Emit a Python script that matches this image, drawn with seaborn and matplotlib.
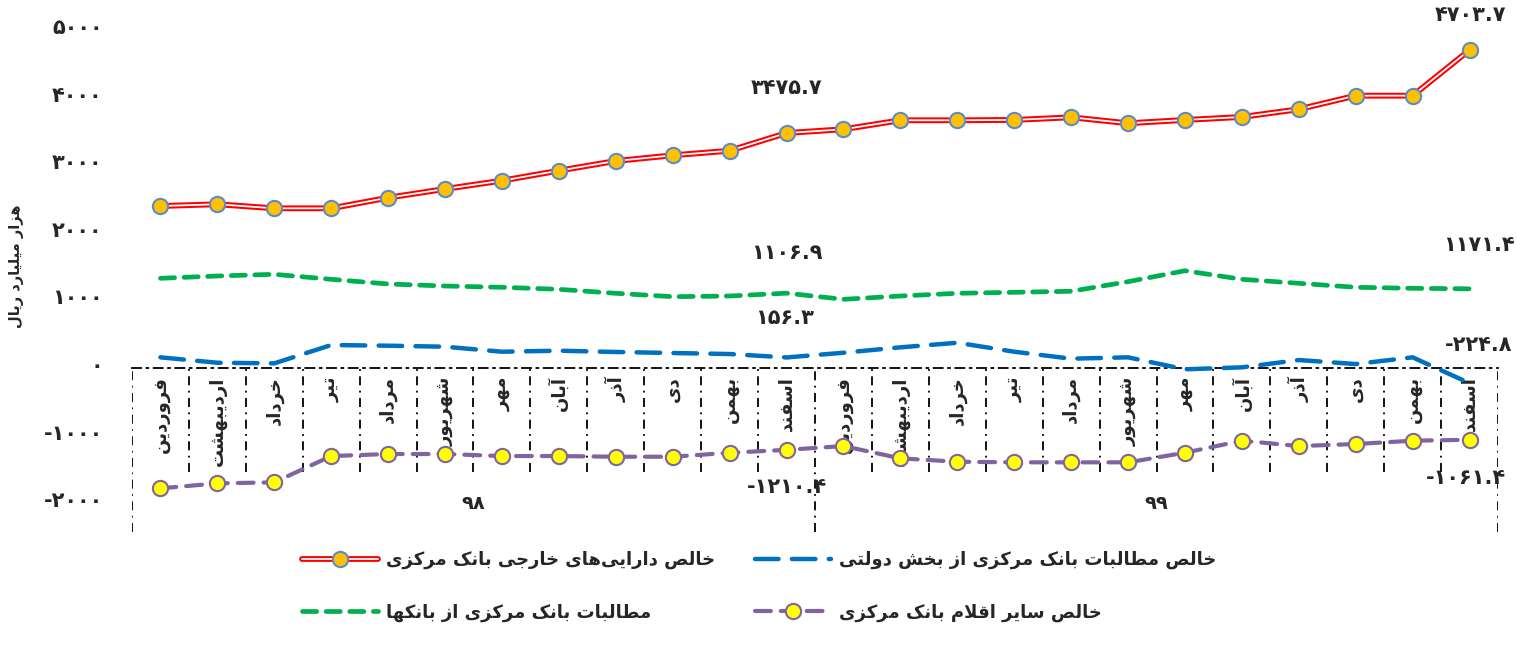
import pandas as pd
import seaborn as sns
import matplotlib.pyplot as plt
from matplotlib.transforms import ScaledTranslation

# ================== داده‌ها ==================
months = ['فروردین', 'اردیبهشت', 'خرداد', 'تیر', 'مرداد', 'شهریور',
          'مهر', 'آبان', 'آذر', 'دی', 'بهمن', 'اسفند'] * 2
years = ['98', '99']
foreign_assets = [2396, 2422, 2362, 2362, 2519, 2648, 2771, 2919, 3062, 3146, 3214, 3475.7,
                  3531, 3664, 3664, 3669, 3708, 3620, 3669, 3713, 3827, 4028, 4028, 4703.7]
claims_gov = [158, 78, 69, 340, 330, 315, 241, 256, 237, 222, 207, 156.3,
              226, 306, 374, 241, 138, 158, -19, 10, 118, 59, 158, -224.8]
claims_banks = [1327, 1361, 1386, 1312, 1243, 1213, 1194, 1164, 1105, 1055, 1065, 1106.9,
                1016, 1065, 1105, 1120, 1135, 1277, 1439, 1312, 1253, 1194, 1179, 1171.4]
other_items = [-1780, -1706, -1691, -1302, -1272, -1272, -1302, -1302, -1312, -1312, -1253, -1210.4,
               -1154, -1336, -1386, -1395, -1395, -1395, -1253, -1075, -1154, -1124, -1075, -1061.4]
labels = ['خالص دارایی‌های خارجی بانک مرکزی', 'مطالبات بانک مرکزی از بانکها',
          'خالص مطالبات بانک مرکزی از بخش دولتی', 'خالص سایر اقلام بانک مرکزی']
y_title = 'هزار میلیارد ریال'
yticks = [-2000, -1000, 0, 1000, 2000, 3000, 4000, 5000]

# ================== شکل‌دهی حروف فارسی ==================
# isolated, final, initial, medial (None = فقط از راست وصل می‌شود)
FORMS = {
    'ا': (0xFE8D, 0xFE8E, None, None), 'آ': (0xFE81, 0xFE82, None, None),
    'ب': (0xFE8F, 0xFE90, 0xFE91, 0xFE92), 'ت': (0xFE95, 0xFE96, 0xFE97, 0xFE98),
    'ج': (0xFE9D, 0xFE9E, 0xFE9F, 0xFEA0), 'خ': (0xFEA5, 0xFEA6, 0xFEA7, 0xFEA8),
    'د': (0xFEA9, 0xFEAA, None, None), 'ذ': (0xFEAB, 0xFEAC, None, None),
    'ر': (0xFEAD, 0xFEAE, None, None), 'ز': (0xFEAF, 0xFEB0, None, None),
    'س': (0xFEB1, 0xFEB2, 0xFEB3, 0xFEB4), 'ش': (0xFEB5, 0xFEB6, 0xFEB7, 0xFEB8),
    'ص': (0xFEB9, 0xFEBA, 0xFEBB, 0xFEBC), 'ط': (0xFEC1, 0xFEC2, 0xFEC3, 0xFEC4),
    'ف': (0xFED1, 0xFED2, 0xFED3, 0xFED4), 'ق': (0xFED5, 0xFED6, 0xFED7, 0xFED8),
    'ل': (0xFEDD, 0xFEDE, 0xFEDF, 0xFEE0), 'م': (0xFEE1, 0xFEE2, 0xFEE3, 0xFEE4),
    'ن': (0xFEE5, 0xFEE6, 0xFEE7, 0xFEE8), 'ه': (0xFEE9, 0xFEEA, 0xFEEB, 0xFEEC),
    'و': (0xFEED, 0xFEEE, None, None), 'ک': (0xFB8E, 0xFB8F, 0xFB90, 0xFB91),
    'ی': (0xFBFC, 0xFBFD, 0xFBFE, 0xFBFF),
}
LAM_ALEF = {'ا': (0xFEFB, 0xFEFC), 'آ': (0xFEF5, 0xFEF6)}


def dual(ch):
    return ch in FORMS and FORMS[ch][2] is not None


def fa(text):
    out, i, n = [], 0, len(text)
    while i < n:
        c = text[i]
        if c not in FORMS:
            out.append('' if c == '\u200c' else c)
            i += 1
            continue
        linked = i > 0 and dual(text[i - 1])
        if c == 'ل' and i + 1 < n and text[i + 1] in LAM_ALEF:
            out.append(chr(LAM_ALEF[text[i + 1]][1 if linked else 0]))
            i += 2
            continue
        iso, fin, ini, med = FORMS[c]
        to_next = ini is not None and i + 1 < n and text[i + 1] in FORMS
        if linked and to_next:
            code = med
        elif linked:
            code = fin
        elif to_next:
            code = ini
        else:
            code = iso
        out.append(chr(code))
        i += 1
    return ''.join(out)[::-1]


DIGITS = str.maketrans('0123456789', '۰۱۲۳۴۵۶۷۸۹')


def fa_num(v, dec=False):
    s = f'{v:.1f}' if dec else f'{int(v)}'
    return s.translate(DIGITS)


# ================== رسم ==================
sns.set_theme(style='white')
plt.rcParams['font.family'] = ['DejaVu Sans']

fig = plt.figure(figsize=(15.17, 6.48), dpi=100)
ax = fig.add_axes([0.087, 0.166, 0.9005, 0.793])
x = list(range(len(months)))

RED, ORANGE, MEDGE = '#FF0000', '#FFC000', '#5B8BC9'
BLUE, GREEN, PURPLE, YELLOW = '#0070C0', '#00B050', '#8064A2', '#FFFF00'

# خالص دارایی‌های خارجی (خط دوتایی)
sns.lineplot(x=x, y=foreign_assets, color=RED, lw=4.2, ax=ax, zorder=3)
sns.lineplot(x=x, y=foreign_assets, color='white', lw=1.3, ax=ax, zorder=3)
sns.lineplot(x=x, y=foreign_assets, linestyle='', marker='o', markersize=11,
             markerfacecolor=ORANGE, markeredgecolor=MEDGE, markeredgewidth=1.5, ax=ax, zorder=4)
red_lines = ax.lines[-3:]

sns.lineplot(x=x, y=claims_banks, color=GREEN, lw=3.4, linestyle=(0, (3.0, 2.0)),
             dash_capstyle='round', ax=ax, zorder=3)
green_line = ax.lines[-1]
sns.lineplot(x=x, y=claims_gov, color=BLUE, lw=3.2, linestyle=(0, (5.3, 3.0)),
             dash_capstyle='round', ax=ax, zorder=3)
blue_line = ax.lines[-1]
sns.lineplot(x=x, y=other_items, color=PURPLE, lw=3.0, linestyle=(0, (3.8, 2.4)),
             dash_capstyle='round', marker='o', markersize=11, markerfacecolor=YELLOW,
             markeredgecolor=PURPLE, markeredgewidth=1.5, ax=ax, zorder=3)
purple_line = ax.lines[-1]

ax.set_xlim(-0.5, 23.5)
ax.set_ylim(-2550, 5050)

# محور افقی روی صفر با جدول ماه‌ها
for s in ['left', 'top', 'right']:
    ax.spines[s].set_visible(False)
ax.spines['bottom'].set_position(('data', 0))
ax.spines['bottom'].set_color('black')
ax.spines['bottom'].set_linewidth(1.3)
ax.spines['bottom'].set_linestyle((0, (5, 3, 1, 3)))
inner = [b + 0.5 for b in range(24) if b not in (11, 23)]
ax.vlines(inner, -1540, 0, colors='black', lw=1.3, linestyles=[(0, (5, 3, 1, 3))])
ax.vlines([-0.5, 11.5, 23.5], -2420, 0, colors='black', lw=1.3, linestyles=[(0, (5, 3, 1, 3))])

ax.set_xticks(x, labels=[fa(m) for m in months], rotation=90, fontsize=13, fontweight='bold')
ax.tick_params(axis='x', length=0, pad=6)
ax.set_yticks(yticks, labels=[fa_num(v) for v in yticks], fontsize=15, fontweight='bold')
ax.tick_params(axis='y', length=0, pad=21)
ax.set_xlabel('')
ax.set_ylabel(fa(y_title), fontsize=10.5, fontweight='bold')
ax.yaxis.set_label_coords(-0.079, 0.534)

for xc, yr in zip([5.5, 17.5], years):
    ax.text(xc, -2000, yr.translate(DIGITS), ha='center', va='center', fontsize=14, fontweight='bold')

# برچسب داده‌ها (اسفند ۹۸ و اسفند ۹۹)
px = 0.72
label_offsets = [
    (foreign_assets, (0, 45), (1, 35)),
    (claims_banks, (0, 40), (9, 44)),
    (claims_gov, (-2, 39), (9, 38)),
    (other_items, (0, -37), (-4, -38)),
]
for series, off_a, off_b in label_offsets:
    for idx, off in [(11, off_a), (23, off_b)]:
        ax.annotate(fa_num(series[idx], dec=True), (idx, series[idx]),
                    xytext=(off[0] * px, off[1] * px), textcoords='offset points',
                    ha='center', va='center', fontsize=15, fontweight='bold')

handles = [tuple(red_lines), green_line, blue_line, purple_line]
fig.legend(handles, [fa(l) for l in labels], loc='upper left',
           bbox_to_anchor=(302 / 1517, 1 - 551 / 648), ncol=2, frameon=False,
           prop=dict(weight='bold', size=13), handlelength=4.2, handletextpad=0.45,
           columnspacing=2.2, labelspacing=1.9, borderaxespad=0, borderpad=0)

# برچسب‌های محور عمودی کمی بالاتر، مانند نمودار اصلی
shift = ScaledTranslation(0, 4 / 100, fig.dpi_scale_trans)
for lbl in ax.get_yticklabels():
    lbl.set_transform(lbl.get_transform() + shift)

plt.savefig('out.png', dpi=100)
plt.close()
